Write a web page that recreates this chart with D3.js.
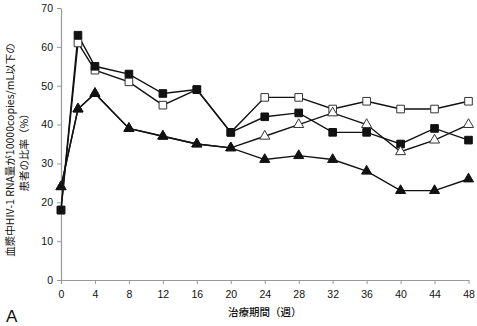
<!DOCTYPE html>
<html>
<head>
<meta charset="utf-8">
<script src="https://cdn.jsdelivr.net/npm/d3@7"></script>
<style>
  html, body { margin: 0; padding: 0; background: #fff; }
  svg { display: block; }
  .tick text { font-family: "Liberation Sans", Arial, sans-serif; font-size: 10.5px; fill: #111; }
  .jp { font-family: "Noto Sans CJK JP", sans-serif; fill: #111; }
</style>
</head>
<body>
<svg id="chart" width="477" height="326"></svg>
<script>
// Treatment weeks
const weeks = [0, 2, 4, 8, 12, 16, 20, 24, 28, 32, 36, 40, 44, 48];

// Percentage of patients with plasma HIV-1 RNA <= 10000 copies/mL, per group
const filledSquare   = [18, 63, 55, 53, 48, 49, 38, 42, 43, 38, 38, 35, 39, 36];
const openSquare     = [18, 61, 54, 51, 45, 49, 38, 47, 47, 44, 46, 44, 44, 46];
const filledTriangle = [24, 44, 48, 39, 37, 35, 34, 31, 32, 31, 28, 23, 23, 26];
const openTriangle   = [24, 44, 48, 39, 37, 35, 34, 37, 40, 43, 40, 33, 36, 40];

const xTicks = [0, 4, 8, 12, 16, 20, 24, 28, 32, 36, 40, 44, 48];
const yTicks = [0, 10, 20, 30, 40, 50, 60, 70];

const svg = d3.select("#chart");
const margin = { top: 8, right: 8.5, bottom: 46, left: 61 };
const W = 477, H = 326;

const x = d3.scaleLinear().domain([0, 48]).range([margin.left, W - margin.right]);
const y = d3.scaleLinear().domain([0, 70]).range([H - margin.bottom, margin.top]);

// Axes
const xAxis = svg.append("g")
  .attr("transform", `translate(0,${y(0)})`)
  .call(d3.axisBottom(x).tickValues(xTicks).tickSize(4).tickPadding(7).tickSizeOuter(0));
const yAxis = svg.append("g")
  .attr("transform", `translate(${x(0)},0)`)
  .call(d3.axisLeft(y).tickValues(yTicks).tickSize(4).tickPadding(4).tickSizeOuter(0));
[xAxis, yAxis].forEach(g => {
  g.select(".domain").attr("stroke", "#999").attr("stroke-width", 1.2);
  g.selectAll(".tick line").attr("stroke", "#999");
});

const series = [
  { values: openSquare,     shape: d3.symbolSquare,   fill: "#fff",  size: 58 },
  { values: filledSquare,   shape: d3.symbolSquare,   fill: "#111",  size: 58 },
  { values: openTriangle,   shape: d3.symbolTriangle, fill: "#fff",  size: 44 },
  { values: filledTriangle, shape: d3.symbolTriangle, fill: "#111",  size: 44 }
];

const line = d3.line().x((d, i) => x(weeks[i])).y(d => y(d));

// Connecting lines
series.forEach(s => {
  svg.append("path")
    .datum(s.values)
    .attr("fill", "none")
    .attr("stroke", "#111")
    .attr("stroke-width", 1.4)
    .attr("d", line);
});

// Markers
series.forEach(s => {
  svg.append("g").selectAll("path")
    .data(s.values)
    .join("path")
    .attr("transform", (d, i) => `translate(${x(weeks[i])},${y(d)})`)
    .attr("d", d3.symbol().type(s.shape).size(s.size))
    .attr("fill", s.fill)
    .attr("stroke", s.fill === "#fff" ? "#333" : "#111")
    .attr("stroke-width", 1);
});

// Axis titles
svg.append("text")
  .attr("class", "jp")
  .attr("x", (x(0) + x(48)) / 2)
  .attr("y", 316)
  .attr("text-anchor", "middle")
  .attr("font-size", 10.5)
  .attr("font-weight", 500)
  .text("治療期間（週）");

const yTitle = svg.append("text")
  .attr("class", "jp")
  .attr("transform", "translate(0,150) rotate(-90)")
  .attr("text-anchor", "middle")
  .attr("font-size", 10.5);
yTitle.append("tspan").attr("x", 0).attr("y", 14).text("血漿中HIV-1 RNA量が10000copies/mL以下の");
yTitle.append("tspan").attr("x", 0).attr("y", 28).text("患者の比率（%）");

// Panel label
svg.append("text")
  .attr("x", 6)
  .attr("y", 322)
  .attr("font-family", "Liberation Sans, Arial, sans-serif")
  .attr("font-size", 17)
  .attr("fill", "#111")
  .text("A");
</script>
</body>
</html>
